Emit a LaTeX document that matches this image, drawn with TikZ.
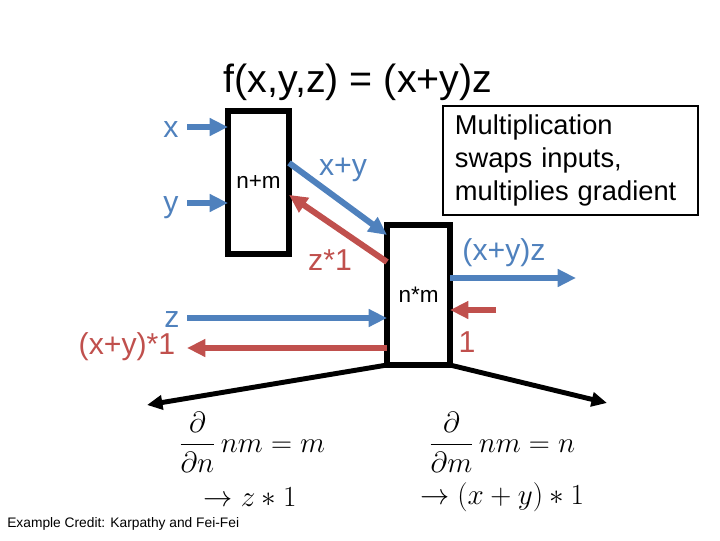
\documentclass[tikz,border=0pt]{standalone}
\usepackage{fontspec}
\setmainfont{Liberation Sans}
\usetikzlibrary{arrows.meta}

\definecolor{fwdblue}{RGB}{79,129,189}
\definecolor{backred}{RGB}{192,80,77}

\begin{document}
\begin{tikzpicture}[
  x=0.025cm, y=-0.025cm,
  gate/.style={draw, line width=4.3pt, outer sep=0pt, fill=white, font=\fontsize{16}{19}\selectfont},
  lab/.style={font=\fontsize{21.5}{25}\selectfont},
  fwd/.style={draw=fwdblue, line width=4.3pt, -{Triangle[length=13pt,width=12pt]}},
  bwd/.style={draw=backred, line width=4.3pt, -{Triangle[length=13pt,width=12pt]}},
  split/.style={draw=black, line width=3.5pt, -{Triangle[length=11pt,width=10pt]}},
  note/.style={draw, line width=1.4pt, align=left, inner xsep=0.3cm, inner ysep=6pt, font=\fontsize{19.4}{23.5}\selectfont},
  deriv/.style={font=\fontsize{22}{26}\selectfont}
]
\useasboundingbox (0,0) rectangle (720,540);

\node[font=\fontsize{28}{33}\selectfont] (title) at (358,82) {f(x,y,z) = (x+y)z};

% the two gates
\node[gate, minimum width=1.525cm, minimum height=3.575cm] (add) at (258.5,182.5) {n+m};
\node[gate, minimum width=1.575cm, minimum height=3.5cm] (mul) at (418.5,295) {n*m};

\node[note, text width=5.775cm, minimum height=2.725cm] (swap) at (570.5,160.5)
  {Multiplication\\swaps inputs,\\multiplies gradient};

% inputs
\node[lab, text=fwdblue] (lx) at (171,130) {x};
\node[lab, text=fwdblue] (ly) at (171,208) {y};
\node[lab, text=fwdblue] (lz) at (172,320) {z};
\node[lab, text=backred] (gz) at (127,347) {(x+y)*1};
\coordinate (xs) at (187,127);
\coordinate (ys) at (187,203);
\coordinate (zs) at (187,318);
\coordinate (ze) at (187,348);

\draw[fwd] (xs) -- (xs -| add.west);
\draw[fwd] (ys) -- (ys -| add.west);
\draw[fwd] (zs) -- (zs -| mul.west);
\draw[bwd] (ze -| mul.west) -- (ze);

% between gates
\draw[fwd] ([yshift=0.49cm]add.east) -- ([yshift=1.5cm]mul.west);
\draw[bwd] ([yshift=0.825cm]mul.west) -- ([yshift=-0.31cm]add.east);
\node[lab, text=fwdblue] (lsum) at (343,170) {x+y};
\node[lab, text=backred] (gsum) at (330,260) {z*1};

% output
\coordinate (os) at (576,278);
\coordinate (gs) at (496,310);
\draw[fwd] (os -| mul.east) -- (os);
\draw[bwd] (gs) -- (gs -| mul.east);
\node[lab, text=fwdblue] (lout) at (504,253) {(x+y)z};
\node[lab, text=backred] (gout) at (467,342) {1};

% local gradients
\coordinate (dl) at (147,405);
\coordinate (dr) at (607,403);
\draw[split] (mul.south west) -- (dl);
\draw[split] (mul.south east) -- (dr);

\node[deriv] (dn) at (252,442) {$\displaystyle\frac{\partial}{\partial n}\,nm = m$};
\node[deriv] (dnv) at (250,497) {$\rightarrow z*1$};
\node[deriv] (dm) at (502,442) {$\displaystyle\frac{\partial}{\partial m}\,nm = n$};
\node[deriv] (dmv) at (502,497) {$\rightarrow (x+y)*1$};

\node[anchor=west, font=\fontsize{9.8}{12}\selectfont, inner sep=0pt] (credit) at (7,524)
  {Example Credit: Karpathy and Fei-Fei};

\end{tikzpicture}
\end{document}
